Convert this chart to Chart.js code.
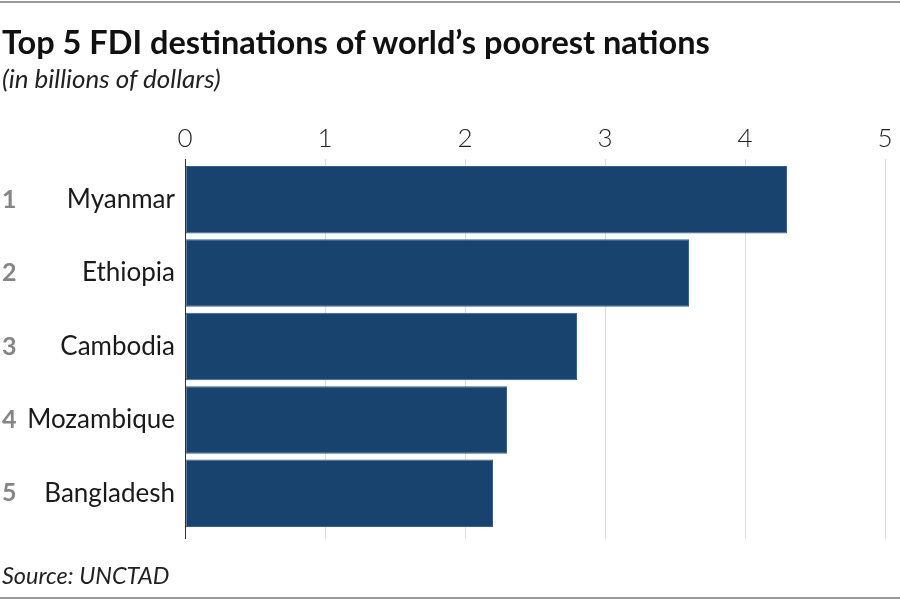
<!DOCTYPE html>
<html>
<head>
<meta charset="utf-8">
<script src="https://cdn.jsdelivr.net/npm/chart.js@4.4.0/dist/chart.umd.min.js"></script>
<style>
    html, body { margin: 0; padding: 0; background: #fff; }
    #wrap { position: relative; width: 900px; height: 600px; overflow: hidden; }
    #chart { position: absolute; left: 0; top: 0; }
    .rule { position: absolute; left: 0; width: 900px; height: 2px; background: #9a9a9a; }
    .txt { position: absolute; left: 2px; white-space: nowrap; font-family: Lato, sans-serif; color: #111; }
    #title { top: 22px; font-size: 32.5px; font-weight: 700; }
    #subtitle { top: 62px; font-size: 26px; font-style: italic; font-weight: 400; color: #222; }
    #source { top: 561px; font-size: 23.5px; font-style: italic; color: #222; }
</style>
</head>
<body>
<div id="wrap">
    <canvas id="chart" width="900" height="600"></canvas>
    <div class="rule" style="top:1px"></div>
    <div class="rule" style="top:597px"></div>
    <div class="txt" id="title">Top 5 FDI destinations of world’s poorest nations</div>
    <div class="txt" id="subtitle">(in billions of dollars)</div>
    <div class="txt" id="source">Source: UNCTAD</div>
</div>
<script>
// chart data
const countries = ['Myanmar', 'Ethiopia', 'Cambodia', 'Mozambique', 'Bangladesh'];
const ranks = ['1', '2', '3', '4', '5'];
const fdiValues = [4.3, 3.6, 2.8, 2.3, 2.2];
const xTicks = [0, 1, 2, 3, 4, 5];

const barColor = '#19436f';
const gridColor = '#dcdcdc';

// extends grid lines below the plot, draws the zero line and rank numbers
const extrasPlugin = {
    id: 'extras',
    afterDraw: function(chart) {
        const ctx = chart.ctx;
        const area = chart.chartArea;
        const xs = chart.scales.x;
        const ys = chart.scales.y;
        ctx.save();
        ctx.lineWidth = 1;
        xTicks.forEach(function(v) {
            const x = Math.round(xs.getPixelForValue(v)) + 0.5;
            ctx.strokeStyle = v === 0 ? '#333' : gridColor;
            ctx.beginPath();
            if (v === 0) {
                ctx.moveTo(x, area.top - 4);
            } else {
                ctx.moveTo(x, area.bottom);
            }
            ctx.lineTo(x, area.bottom + 9);
            ctx.stroke();
        });
        ctx.fillStyle = '#858585';
        ctx.font = '700 25px Lato, sans-serif';
        ctx.textAlign = 'left';
        ctx.textBaseline = 'middle';
        ranks.forEach(function(r, i) {
            ctx.fillText(r, 2, ys.getPixelForValue(i));
        });
        ctx.restore();
    }
};

new Chart(document.getElementById('chart'), {
    type: 'bar',
    data: {
        labels: countries,
        datasets: [{
            data: fdiValues,
            backgroundColor: barColor,
            borderColor: '#3a5f8c',
            borderWidth: 1,
            borderSkipped: false,
            categoryPercentage: 1,
            barPercentage: 0.92
        }]
    },
    options: {
        indexAxis: 'y',
        responsive: false,
        animation: false,
        layout: { padding: { top: 0, right: 15, bottom: 70, left: 0 } },
        plugins: {
            legend: { display: false },
            tooltip: { enabled: false }
        },
        scales: {
            x: {
                position: 'top',
                min: 0,
                max: 5,
                afterFit: function(scale) { scale.height = 163; },
                afterBuildTicks: function(scale) {
                    scale.ticks = xTicks.map(function(v) { return { value: v }; });
                },
                grid: {
                    color: gridColor,
                    lineWidth: 1,
                    drawTicks: true,
                    tickLength: 4
                },
                border: { display: false },
                ticks: {
                    padding: 5,
                    color: '#222',
                    font: { family: 'Lato, sans-serif', size: 26, weight: 300 }
                }
            },
            y: {
                afterFit: function(scale) { scale.width = 185; },
                grid: { display: false, drawTicks: false },
                border: { display: false },
                ticks: {
                    padding: 10,
                    color: '#1a1a1a',
                    font: { family: 'Lato, sans-serif', size: 26, weight: 400 }
                }
            }
        }
    },
    plugins: [extrasPlugin]
});
</script>
</body>
</html>
